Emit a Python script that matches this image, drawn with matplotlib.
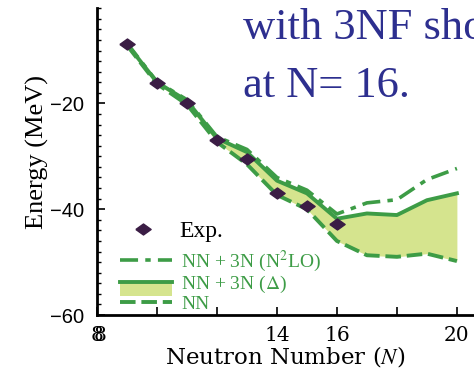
import matplotlib
matplotlib.use("Agg")
import matplotlib.pyplot as plt
from matplotlib.lines import Line2D
from matplotlib.patches import Rectangle
from matplotlib.legend_handler import HandlerBase
from matplotlib.ticker import MultipleLocator

plt.rcParams['mathtext.fontset'] = 'stix'

# neutron numbers and energies (MeV)
n_exp = [9, 10, 11, 12, 13, 14, 15, 16]
e_exp = [-8.8, -16.2, -19.9, -27.0, -30.5, -36.9, -39.4, -42.8]

n_calc = [9, 10, 11, 12, 13, 14, 15, 16, 17, 18, 19, 20]
e_n2lo = [-8.6, -15.9, -19.3, -26.3, -28.7, -34.0, -36.4, -40.9, -38.8, -38.2, -34.4, -32.3]
e_delta = [-8.8, -16.0, -19.5, -26.6, -29.2, -34.6, -37.0, -41.8, -40.8, -41.1, -38.3, -37.0]
e_nn = [-9.0, -16.3, -20.2, -27.3, -31.5, -37.3, -40.0, -46.0, -48.7, -49.0, -48.4, -49.8]

green = '#3d9c46'
band = '#d5e48e'
exp_col = '#3b1d45'

# flat diamond for the experimental points
diamond = [(-1, 0), (0, 0.72), (1, 0), (0, -0.72), (-1, 0)]

fig = plt.figure(figsize=(4.74, 3.70), dpi=100)
ax = fig.add_axes([0.2046, 0.1486, 0.7954, 0.8292])

ax.fill_between(n_calc, e_nn, e_delta, color=band, lw=0, zorder=1)
ax.plot(n_calc, e_n2lo, color=green, lw=2.6, dashes=(5, 2, 1.5, 2), zorder=2)
ax.plot(n_calc, e_delta, color=green, lw=2.8, zorder=3)
ax.plot(n_calc, e_nn, color=green, lw=2.8, dashes=(4, 1.5), zorder=2)
ax.plot(n_exp, e_exp, ls='none', marker=diamond, ms=11, color=exp_col, zorder=4)

ax.set_xlim(8, 20.57)
ax.set_ylim(-60, -2)

for s in ('top', 'right'):
    ax.spines[s].set_visible(False)
ax.spines['left'].set_linewidth(2)
ax.spines['bottom'].set_linewidth(2)

ax.set_xticks([8, 10, 12, 14, 16, 18, 20], labels=['8', '', '', '14', '16', '', '20'],
              family='DejaVu Serif', fontsize=14.5)
ax.set_yticks([-60, -40, -20], labels=['\u221260', '\u221240', '\u221220'],
              family='Liberation Sans', fontsize=14.5)
ax.yaxis.set_minor_locator(MultipleLocator(2))
ax.tick_params(axis='x', direction='in', length=6, width=1.2, pad=8)
ax.tick_params(axis='y', which='major', direction='in', length=6, width=1.2, pad=9)
ax.tick_params(axis='y', which='minor', direction='in', length=3, width=1)

# second, slightly shifted "8" under the origin
ax.annotate('8', xy=(8, -60), xytext=(2, -8), textcoords='offset points',
            ha='center', va='top', family='DejaVu Serif', fontsize=14.5,
            annotation_clip=False)

ax.set_xlabel('Neutron Number ($\\mathit{N}$)', family='DejaVu Serif', fontsize=16.5, labelpad=-1)
ax.set_ylabel('Energy (MeV)', family='Liberation Serif', fontsize=19)
ax.yaxis.set_label_coords(-0.128, 0.53)


class BandHandler(HandlerBase):
    # solid line on top of a shaded band that reaches down to the next row
    def create_artists(self, legend, orig, xd, yd, w, h, fontsize, trans):
        y0 = h / 2 - yd
        gap = h + legend.labelspacing * fontsize
        rect = Rectangle((-xd, y0 - gap), w, gap, facecolor=band, lw=0, transform=trans)
        line = Line2D([-xd, w - xd], [y0, y0], color=green, lw=2.8, transform=trans)
        return [rect, line]


h_exp = Line2D([], [], ls='none', marker=diamond, ms=11, color=exp_col)
h_n2lo = Line2D([], [], color=green, lw=2.6, dashes=(5, 2, 1.5, 2))
h_delta = Line2D([], [], color=green, lw=2.8)
h_nn = Line2D([], [], color=green, lw=2.8, dashes=(4, 1.5))

leg_exp = ax.legend([h_exp], ['Exp.'], loc='lower left', bbox_to_anchor=(0.052, 0.238),
                    frameon=False, prop={'family': 'Liberation Serif', 'size': 17},
                    handlelength=2.25, handletextpad=0.4, borderpad=0, borderaxespad=0)
ax.add_artist(leg_exp)

leg = ax.legend([h_n2lo, h_delta, h_nn],
                ['NN + 3N (N$^2$LO)', 'NN + 3N ($\\Delta$)', 'NN'],
                handler_map={h_delta: BandHandler()},
                loc='lower left', bbox_to_anchor=(0.055, 0.0), frameon=False,
                prop={'family': 'Liberation Serif', 'size': 14},
                handlelength=2.68, handletextpad=0.48, labelspacing=0.02,
                borderpad=0, borderaxespad=0.1)
for t in leg.get_texts():
    t.set_color(green)

title_col = '#2d2f8f'
fig.text(0.512, 0.895, 'with 3NF shows', color=title_col, family='Liberation Serif',
         fontsize=32, va='baseline', ha='left')
fig.text(0.512, 0.738, 'at N= 16.', color=title_col, family='Liberation Serif',
         fontsize=32, va='baseline', ha='left')

fig.savefig('out.png', dpi=100)
